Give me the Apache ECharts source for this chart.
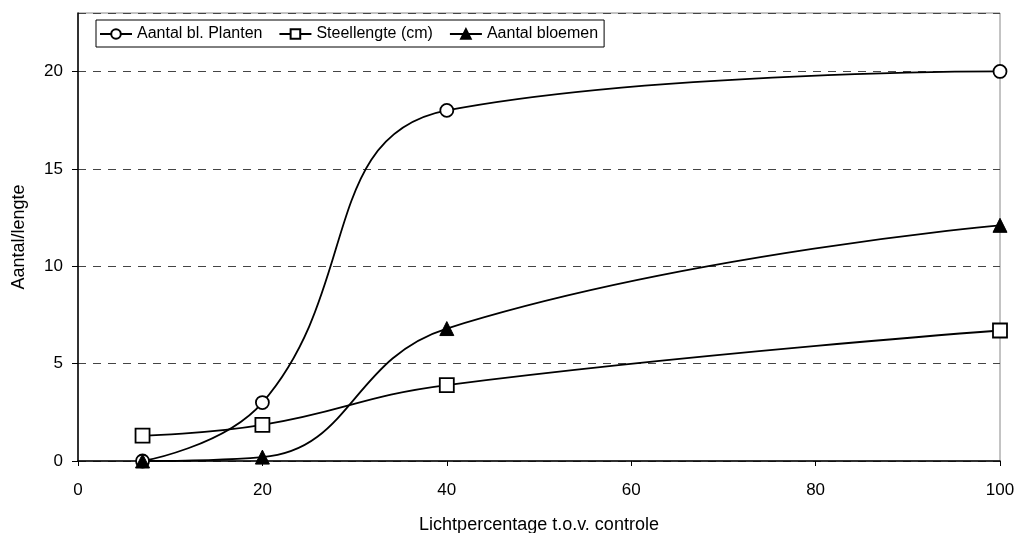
<!DOCTYPE html>
<html>
<head>
<meta charset="utf-8">
<script src="https://cdn.jsdelivr.net/npm/echarts@6/dist/echarts.min.js"></script>
<style>
  html, body { margin: 0; padding: 0; background: #fff; }
  #chart { width: 1020px; height: 533px; }
</style>
</head>
<body>
<div id="chart"></div>
<script>
// lichtpercentage (x) en gemeten waarden
var lichtPct = [7, 20, 40, 100];
var aantalBlPlanten = [0, 3, 18, 20];
var steellengte = [1.3, 1.85, 3.9, 6.7];
var aantalBloemen = [0, 0.2, 6.8, 12.1];
var legendNames = ["Aantal bl. Planten", "Steellengte (cm)", "Aantal bloemen"];

function pairs(ys) {
  return lichtPct.map(function (x, i) {
    return [x, ys[i]];
  });
}

var myChart = echarts.init(document.getElementById("chart"));
var font = "'Liberation Sans', Arial, sans-serif";

var lineStyle = { color: "#000", width: 1.8 };

var option = {
  animation: false,
  textStyle: { fontFamily: font, color: "#000" },
  grid: {
    left: 78,
    right: 20,
    top: 13,
    bottom: 72,
    outerBoundsMode: "none",
    containLabel: false,
    show: true,
    borderColor: "#888",
    borderWidth: 1,
  },
  legend: {
    left: 96,
    top: 20,
    padding: [6, 6, 5, 3],
    itemGap: 16,
    itemWidth: 32,
    itemHeight: 12,
    borderColor: "#000",
    borderWidth: 1,
    backgroundColor: "#fff",
    textStyle: { fontSize: 16, color: "#000", fontFamily: font },
    data: legendNames,
  },
  xAxis: {
    type: "value",
    min: 0,
    max: 100,
    interval: 20,
    name: "Lichtpercentage t.o.v. controle",
    nameLocation: "middle",
    nameGap: 55,
    nameTextStyle: { fontSize: 18, color: "#000", fontFamily: font },
    axisLine: { lineStyle: { color: "#000", width: 1.5 } },
    axisTick: { length: 5, lineStyle: { color: "#000" } },
    axisLabel: { fontSize: 17, color: "#000", margin: 21 },
    splitLine: { show: false },
  },
  yAxis: {
    type: "value",
    min: 0,
    max: 23,
    interval: 5,
    name: "Aantal/lengte",
    nameLocation: "middle",
    nameGap: 50,
    nameTextStyle: { fontSize: 18, color: "#000", fontFamily: font },
    axisLine: { show: true, lineStyle: { color: "#000", width: 1.5 } },
    axisTick: { show: true, length: 6, lineStyle: { color: "#000" } },
    axisLabel: {
      fontSize: 17,
      color: "#000",
      margin: 15,
      showMaxLabel: false,
      formatter: function (v) {
        return v % 5 === 0 ? v : "";
      },
    },
    splitLine: {
      lineStyle: { color: "#444", type: [8, 7], width: 1 },
    },
  },
  series: [
    {
      name: legendNames[0],
      type: "line",
      smooth: 0.45,
      symbol: "circle",
      symbolSize: 13,
      lineStyle: lineStyle,
      itemStyle: { color: "#fff", borderColor: "#000", borderWidth: 1.8 },
      data: pairs(aantalBlPlanten),
    },
    {
      name: legendNames[1],
      type: "line",
      smooth: 0.45,
      symbol: "rect",
      symbolSize: 14,
      lineStyle: lineStyle,
      itemStyle: { color: "#fff", borderColor: "#000", borderWidth: 1.8 },
      data: pairs(steellengte),
    },
    {
      name: legendNames[2],
      type: "line",
      smooth: 0.45,
      symbol: "triangle",
      symbolSize: 14,
      lineStyle: lineStyle,
      itemStyle: { color: "#000", borderColor: "#000", borderWidth: 1 },
      data: pairs(aantalBloemen),
    },
  ],
};

myChart.setOption(option);
window.addEventListener("resize", function () {
  myChart.resize();
});
</script>
</body>
</html>
